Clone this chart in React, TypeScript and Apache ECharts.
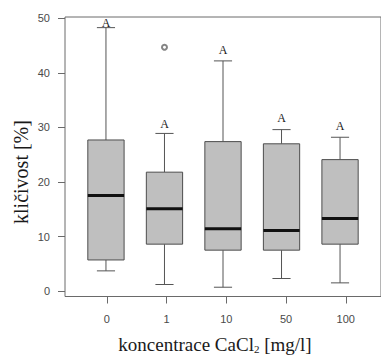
import React, { useEffect, useRef } from "react";
import * as echarts from "echarts";

// Concentration groups (mg/l CaCl2)
const categories = ["0", "1", "10", "50", "100"];
// Five-number summaries per group: lower whisker, Q1, median, Q3, upper whisker
const lowerWhisker = [3.7, 1.2, 0.7, 2.3, 1.5];
const q1 = [5.7, 8.6, 7.5, 7.5, 8.6];
const median = [17.5, 15.1, 11.4, 11.1, 13.3];
const q3 = [27.7, 21.8, 27.4, 27.0, 24.1];
const upperWhisker = [48.3, 28.9, 42.2, 29.6, 28.2];
// Outlying observations: [group index (1-based), value]
const outliers: [number, number][] = [[2, 44.7]];
// Significance letters and the height at which they sit
const letters = ["A", "A", "A", "A", "A"];
const letterY = [49.1, 30.6, 44.2, 31.8, 30.3];
const yTicks = [0, 10, 20, 30, 40, 50];

const BOX_WIDTH = 0.62;
const CAP_WIDTH = 0.31;

// Plot frame: x runs from 0.3 to 5.7 group units
const PLOT_LEFT = 65;
const PLOT_TOP = 17;
const PLOT_WIDTH = 322.6;
const PLOT_HEIGHT = 279.5;
const UNIT = PLOT_WIDTH / 5.4;

export default function App() {
  const ref = useRef<HTMLDivElement>(null);

  useEffect(() => {
    if (!ref.current) return;
    const chart = echarts.init(ref.current, undefined, { renderer: "svg" });

    const boxData = categories.map((_, i) => [
      i + 1,
      lowerWhisker[i],
      q1[i],
      median[i],
      q3[i],
      upperWhisker[i],
    ]);

    const lineColor = "#555";
    const axisColor = "#6a6a6a";
    const labelColor = "#4a4a4a";

    chart.setOption({
      animation: false,
      grid: [
        {
          left: PLOT_LEFT,
          top: PLOT_TOP,
          width: PLOT_WIDTH,
          height: PLOT_HEIGHT,
          show: true,
          borderColor: axisColor,
          borderWidth: 1,
          backgroundColor: "transparent",
        },
        {
          // band grid for the category labels: one band per group, centred on 1..5
          left: PLOT_LEFT + 0.2 * UNIT,
          top: PLOT_TOP,
          width: 5 * UNIT,
          height: PLOT_HEIGHT,
          show: false,
        },
      ],
      xAxis: [
        {
          type: "value",
          gridIndex: 0,
          min: 0.3,
          max: 5.7,
          axisLine: { show: false },
          splitLine: { show: false },
          axisTick: { show: false },
          axisLabel: { show: false },
        },
        {
          type: "category",
          gridIndex: 1,
          data: categories,
          axisLine: { show: false },
          splitLine: { show: false },
          axisTick: {
            show: true,
            alignWithLabel: true,
            length: 7,
            lineStyle: { color: axisColor },
          },
          axisLabel: {
            margin: 17,
            fontFamily: "Liberation Sans",
            fontSize: 11,
            color: labelColor,
          },
        },
      ],
      yAxis: [
        {
          type: "value",
          gridIndex: 0,
          min: -1,
          max: 50.25,
          axisLine: { show: false },
          splitLine: { show: false },
          axisTick: {
            show: true,
            customValues: yTicks,
            length: 7,
            lineStyle: { color: axisColor },
          },
          axisLabel: {
            customValues: yTicks,
            margin: 15,
            fontFamily: "Liberation Sans",
            fontSize: 11,
            color: labelColor,
          },
        },
        {
          type: "value",
          gridIndex: 1,
          show: false,
        },
      ],
      series: [
        {
          type: "custom",
          xAxisIndex: 0,
          yAxisIndex: 0,
          data: boxData,
          renderItem: (params: any, api: any) => {
            const x = api.value(0);
            const lo = api.coord([x, api.value(1)]);
            const b1 = api.coord([x, api.value(2)]);
            const md = api.coord([x, api.value(3)]);
            const b3 = api.coord([x, api.value(4)]);
            const hi = api.coord([x, api.value(5)]);
            const bw = api.size([BOX_WIDTH, 0])[0];
            const cw = api.size([CAP_WIDTH, 0])[0];
            const cx = lo[0];
            const line = (x1: number, y1: number, x2: number, y2: number, w = 1, c = lineColor) => ({
              type: "line",
              shape: { x1, y1, x2, y2 },
              style: { stroke: c, lineWidth: w },
            });
            return {
              type: "group",
              children: [
                line(cx, b3[1], cx, hi[1]),
                line(cx, b1[1], cx, lo[1]),
                line(cx - cw / 2, hi[1], cx + cw / 2, hi[1]),
                line(cx - cw / 2, lo[1], cx + cw / 2, lo[1]),
                {
                  type: "rect",
                  shape: { x: cx - bw / 2, y: b3[1], width: bw, height: b1[1] - b3[1] },
                  style: { fill: "#bfbfbf", stroke: "#4d4d4d", lineWidth: 1 },
                },
                line(cx - bw / 2, md[1], cx + bw / 2, md[1], 3, "#111"),
              ],
            };
          },
          z: 2,
        },
        {
          type: "scatter",
          xAxisIndex: 0,
          yAxisIndex: 0,
          data: outliers,
          symbol: "emptyCircle",
          symbolSize: 5,
          itemStyle: { color: "#666", borderColor: "#666", borderWidth: 0.8 },
          z: 3,
        },
        {
          type: "custom",
          xAxisIndex: 0,
          yAxisIndex: 0,
          data: letters.map((_, i) => [i + 1, letterY[i]]),
          renderItem: (params: any, api: any) => {
            const p = api.coord([api.value(0), api.value(1)]);
            return {
              type: "text",
              x: p[0],
              y: p[1],
              style: {
                text: letters[params.dataIndex],
                fontFamily: "Liberation Serif",
                fontSize: 12,
                fill: "#1a1a1a",
                align: "center",
                verticalAlign: "middle",
              },
            };
          },
          z: 4,
        },
      ],
      graphic: [
        {
          type: "text",
          x: 21,
          y: 172,
          rotation: Math.PI / 2,
          style: {
            text: "kličivost [%]",
            fontFamily: "Liberation Serif",
            fontSize: 20,
            fill: "#1a1a1a",
            align: "center",
            verticalAlign: "middle",
          },
        },
        {
          type: "text",
          x: 215,
          y: 344,
          style: {
            text: "{t|koncentrace CaCl}{s|2}{t| [mg/l]}",
            align: "center",
            verticalAlign: "middle",
            rich: {
              t: { fontFamily: "Liberation Serif", fontSize: 19, fill: "#1a1a1a", color: "#1a1a1a" },
              s: {
                fontFamily: "Liberation Serif",
                fontSize: 11,
                color: "#1a1a1a",
                fill: "#1a1a1a",
                padding: [10, 0, 0, 0],
              },
            },
          },
        },
      ],
    });

    return () => chart.dispose();
  }, []);

  return (
    <div
      ref={ref}
      style={{ position: "absolute", left: 0, top: 0, width: 381, height: 357 }}
    />
  );
}
